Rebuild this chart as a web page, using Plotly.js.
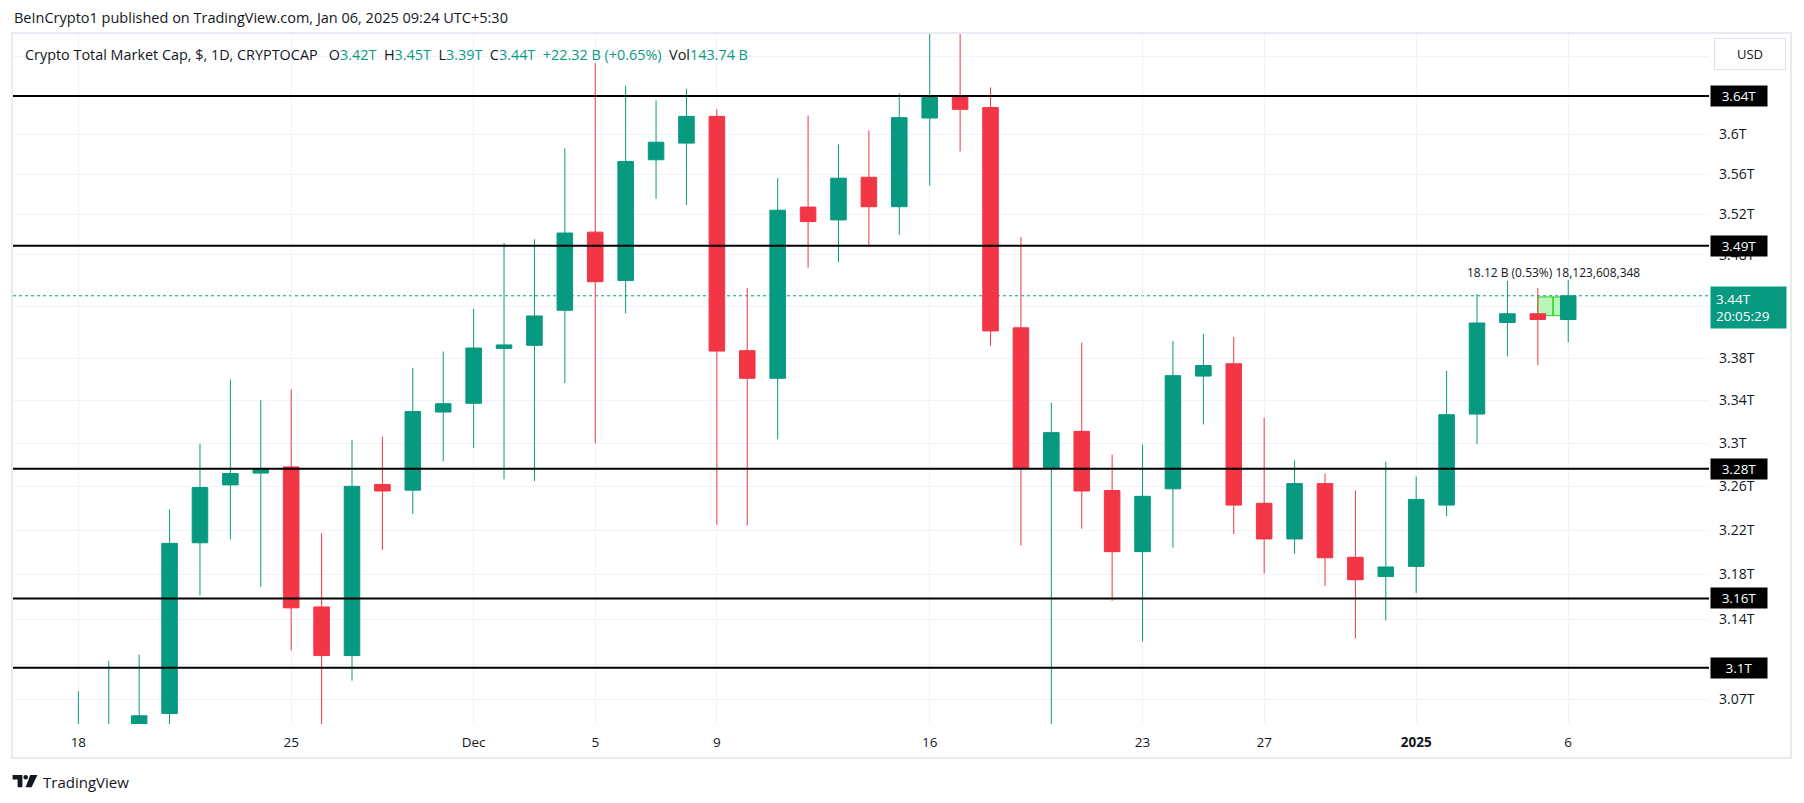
<!DOCTYPE html>
<html><head><meta charset="utf-8">
<script src="https://cdn.plot.ly/plotly-3.0.1.min.js"></script>
<style>html,body{margin:0;padding:0;background:#fff;}#chart{width:1804px;height:803px;}</style>
</head><body><div id="chart"></div>
<script>
// ---- data (values in trillions USD) ----
const dates = ['2024-11-18','2024-11-19','2024-11-20','2024-11-21','2024-11-22','2024-11-23','2024-11-24','2024-11-25','2024-11-26','2024-11-27','2024-11-28','2024-11-29','2024-11-30',
'2024-12-01','2024-12-02','2024-12-03','2024-12-04','2024-12-05','2024-12-06','2024-12-07','2024-12-08','2024-12-09','2024-12-10','2024-12-11','2024-12-12','2024-12-13','2024-12-14','2024-12-15','2024-12-16','2024-12-17','2024-12-18','2024-12-19','2024-12-20','2024-12-21','2024-12-22','2024-12-23','2024-12-24','2024-12-25','2024-12-26','2024-12-27','2024-12-28','2024-12-29','2024-12-30','2024-12-31',
'2025-01-01','2025-01-02','2025-01-03','2025-01-04','2025-01-05','2025-01-06'];
const openT  = [3.020,3.035,3.040,3.0577,3.2085,3.2613,3.2722,3.2779,3.1510,3.1081,3.2617,3.2565,3.3290,
3.3372,3.3892,3.3922,3.4259,3.5022,3.4548,3.5744,3.5912,3.6184,3.3871,3.3608,3.5270,3.5143,3.5568,3.5274,3.6167,3.6395,3.6274,3.4090,3.2767,3.3109,3.2561,3.2005,3.2577,3.3629,3.3746,3.2444,3.2120,3.2625,3.1954,3.1781,
3.1872,3.2428,3.3271,3.4141,3.4225,3.4170];
const highT  = [3.077,3.1035,3.1088,3.2388,3.2994,3.3596,3.3401,3.3504,3.2172,3.3031,3.3060,3.3708,3.3863,
3.4272,3.4914,3.4952,3.5859,3.6730,3.6499,3.6346,3.6468,3.6256,3.4476,3.5559,3.6193,3.5899,3.6041,3.6418,3.7200,3.7300,3.6481,3.4974,3.3376,3.3947,3.2893,3.2986,3.3964,3.4031,3.4001,3.3236,3.2839,3.2718,3.2561,3.2827,
3.2690,3.3679,3.4416,3.4544,3.4476,3.4553];
const lowT   = [2.985,2.995,3.000,3.030,3.1612,3.2116,3.1690,3.1127,3.035,3.0862,3.2021,3.2348,3.2831,
3.2954,3.2665,3.2649,3.3563,3.2998,3.4229,3.5352,3.5291,3.2248,3.2241,3.3035,3.4673,3.4724,3.4879,3.4996,3.5484,3.5828,3.3918,3.2061,3.030,3.2212,3.1565,3.1204,3.2041,3.3174,3.2164,3.1808,3.1986,3.1698,3.1231,3.1390,
3.1635,3.2328,3.2990,3.3817,3.3733,3.3951];
const closeT = [3.035,3.040,3.0558,3.2080,3.2589,3.2718,3.2759,3.1502,3.1081,3.2600,3.2557,3.3294,3.3368,
3.3896,3.3926,3.4204,3.5013,3.4536,3.5726,3.5921,3.6184,3.3867,3.3608,3.5239,3.5126,3.5559,3.5274,3.6171,3.6387,3.6256,3.4060,3.2767,3.3097,3.2557,3.2005,3.2508,3.3633,3.3729,3.2428,3.2120,3.2625,3.1950,3.1753,3.1867,
3.2480,3.3265,3.4136,3.4225,3.4170,3.4399];

const levelValues = [3.6393, 3.4888, 3.2763, 3.1586, 3.0975];
const levelLabels = ['3.64T', '3.49T', '3.28T', '3.16T', '3.1T'];

// gridline levels; labels hidden behind the axis boxes are left blank
const priceTicks = [3.07,3.1,3.14,3.18,3.22,3.26,3.3,3.34,3.38,3.43,3.48,3.52,3.56,3.6,3.64,3.68];
const priceTickLabels = ['3.07T','3.1T','3.14T','3.18T','3.22T','3.26T','3.3T','3.34T','3.38T','','3.48T','3.52T','3.56T','3.6T','',''];

const dateTicks = ['2024-11-18','2024-11-25','2024-12-01','2024-12-05','2024-12-09','2024-12-16','2024-12-23','2024-12-27','2025-01-01','2025-01-06'];
const dateTickLabels = ['18','25','Dec','5','9','16','23','27','<b>2025</b>','6'];

const lastPrice = 3.4399;
const lastPriceLabel = '3.44T';
const countdownLabel = '20:05:29';

const measureDates = ['2025-01-05', '2025-01-06'];
const measurePrices = [3.4207, 3.4388];
const measureMid = '2025-01-05 12:00';
const measureLabel = '18.12 B (0.53%) 18,123,608,348';
const measureLabelPrice = 3.4629;

const titleText = 'BeInCrypto1 published on TradingView.com, Jan 06, 2025 09:24 UTC+5:30';
const headerName = 'Crypto Total Market Cap, $, 1D, CRYPTOCAP';
const headerOHLC = [['O','3.42T'],['H','3.45T'],['L','3.39T'],['C','3.44T']];
const headerChange = '+22.32 B (+0.65%)';
const headerVol = '143.74 B';

// ---- layout helpers ----
const W = 1804, H = 803;
const PL = 13, PR = 1709, PT = 34, PB = 724;
const px2x = px => (px - PL) / (PR - PL);
const py2y = py => (PB - py) / (PB - PT);
const GREEN = '#089981', RED = '#F23645', TXT = '#131722';
const FONT = '"Open Sans", "Noto Sans", sans-serif';
const path = pts => pts.map((p, i) => (i ? 'L' : 'M') + px2x(p[0]).toFixed(6) + ',' + py2y(p[1]).toFixed(6)).join(' ') + ' Z';

const candle = {
  type: 'candlestick', x: dates, open: openT, high: highT, low: lowT, close: closeT,
  increasing: {line: {color: GREEN, width: 1}, fillcolor: GREEN},
  decreasing: {line: {color: RED, width: 1}, fillcolor: RED},
  whiskerwidth: 0, hoverinfo: 'skip'
};

const shapes = [];
shapes.push({type: 'rect', xref: 'x', yref: 'y', x0: measureDates[0], x1: measureDates[1], y0: measurePrices[0], y1: measurePrices[1],
  fillcolor: 'rgba(178,245,178,0.9)', line: {color: '#1ed41e', width: 1}, layer: 'between'});
shapes.push({type: 'line', xref: 'x', yref: 'y', x0: measureMid, x1: measureMid, y0: measurePrices[0], y1: measurePrices[1],
  line: {color: '#1ed41e', width: 1.5}, layer: 'between'});
shapes.push({type: 'line', xref: 'paper', yref: 'y', x0: 0, x1: 1, y0: lastPrice, y1: lastPrice,
  line: {color: GREEN, width: 1, dash: 'dot'}, layer: 'below'});
levelValues.forEach(v => shapes.push({type: 'line', xref: 'paper', yref: 'y', x0: 0, x1: 1, y0: v, y1: v,
  line: {color: '#000000', width: 2}}));
shapes.push({type: 'rect', xref: 'paper', yref: 'paper', x0: px2x(12), x1: px2x(1791), y0: py2y(758), y1: py2y(33),
  line: {color: '#e0e3eb', width: 1.5}, fillcolor: 'rgba(0,0,0,0)'});
shapes.push({type: 'path', xref: 'paper', yref: 'paper', path: path([[12.6,775],[22.4,775],[22.4,787.3],[17.6,787.3],[17.6,779.6],[12.6,779.6]]), fillcolor: TXT, line: {width: 0}});
shapes.push({type: 'circle', xref: 'paper', yref: 'paper', x0: px2x(23.4), x1: px2x(28.0), y0: py2y(779.6), y1: py2y(775), fillcolor: TXT, line: {width: 0}});
shapes.push({type: 'path', xref: 'paper', yref: 'paper', path: path([[30.2,775],[37.4,775],[31.6,787.3],[25.6,787.3]]), fillcolor: TXT, line: {width: 0}});

const annotations = [];
annotations.push({xref: 'paper', yref: 'paper', x: px2x(12), y: py2y(18), xanchor: 'left', yanchor: 'middle', showarrow: false,
  text: titleText, font: {family: FONT, size: 14.5, color: TXT}});
const sp = '\u00a0\u00a0';
let hdr = headerName + '\u00a0\u00a0\u00a0';
headerOHLC.forEach(([k, v]) => { hdr += k + '<span style="color:' + GREEN + '">' + v + '</span>' + sp; });
hdr += '<span style="color:' + GREEN + '">' + headerChange + '</span>' + sp + 'Vol<span style="color:' + GREEN + '">' + headerVol + '</span>';
annotations.push({xref: 'paper', yref: 'paper', x: px2x(23), y: py2y(54), xanchor: 'left', yanchor: 'middle', showarrow: false,
  text: hdr, font: {family: FONT, size: 14.4, color: TXT}});
annotations.push({xref: 'paper', yref: 'paper', x: px2x(1750), y: py2y(54), xanchor: 'center', yanchor: 'middle', showarrow: false,
  text: 'USD', font: {family: FONT, size: 13, color: TXT}, bgcolor: '#ffffff', bordercolor: '#e0e3eb', borderwidth: 1, borderpad: 4, width: 62, height: 22});
annotations.push({xref: 'paper', yref: 'paper', x: px2x(41), y: py2y(781.5), xanchor: 'left', yanchor: 'middle', showarrow: false,
  text: 'TradingView', font: {family: FONT, size: 15, color: TXT}});
levelValues.forEach((v, i) => annotations.push({xref: 'paper', yref: 'y', x: px2x(1710), y: Math.log10(v), xanchor: 'left', yanchor: 'middle',
  showarrow: false, text: levelLabels[i], font: {family: FONT, size: 13.5, color: '#ffffff'}, bgcolor: '#000000', borderpad: 4, width: 48, height: 12, align: 'center'}));
annotations.push({xref: 'paper', yref: 'y', x: px2x(1710), y: Math.log10(lastPrice), xanchor: 'left', yanchor: 'top', yshift: 10,
  showarrow: false, text: lastPriceLabel + '<br>' + countdownLabel, font: {family: FONT, size: 13.5, color: '#ffffff'}, bgcolor: GREEN, borderpad: 5, width: 65, height: 31, align: 'left'});
annotations.push({xref: 'x', yref: 'y', x: measureMid, y: Math.log10(measureLabelPrice), xanchor: 'center', yanchor: 'middle',
  showarrow: false, text: measureLabel, font: {family: FONT, size: 12, color: TXT}});

const layout = {
  width: W, height: H, margin: {l: PL, r: W - PR, t: PT, b: H - PB, pad: 0},
  paper_bgcolor: '#ffffff', plot_bgcolor: '#ffffff', showlegend: false, hovermode: false, dragmode: false,
  boxgap: 0.27,
  xaxis: {type: 'date', range: ['2024-11-15 20:25', '2025-01-10 15:07'], tickmode: 'array', tickvals: dateTicks, ticktext: dateTickLabels,
    showgrid: true, gridcolor: '#f0f3fa', gridwidth: 1, zeroline: false, showline: false, ticks: '', ticklabelstandoff: 8,
    tickfont: {family: FONT, size: 13.5, color: TXT}, rangeslider: {visible: false}, fixedrange: true},
  yaxis: {type: 'log', side: 'right', range: [Math.log10(3.0487), Math.log10(3.7034)], tickmode: 'array', tickvals: priceTicks, ticktext: priceTickLabels,
    showgrid: true, gridcolor: '#f0f3fa', gridwidth: 1, zeroline: false, showline: false, ticks: '', ticklabelstandoff: 9,
    tickfont: {family: FONT, size: 14, color: TXT}, fixedrange: true},
  shapes: shapes, annotations: annotations
};
Plotly.newPlot('chart', [candle], layout, {staticPlot: true, displayModeBar: false});
</script></body></html>
